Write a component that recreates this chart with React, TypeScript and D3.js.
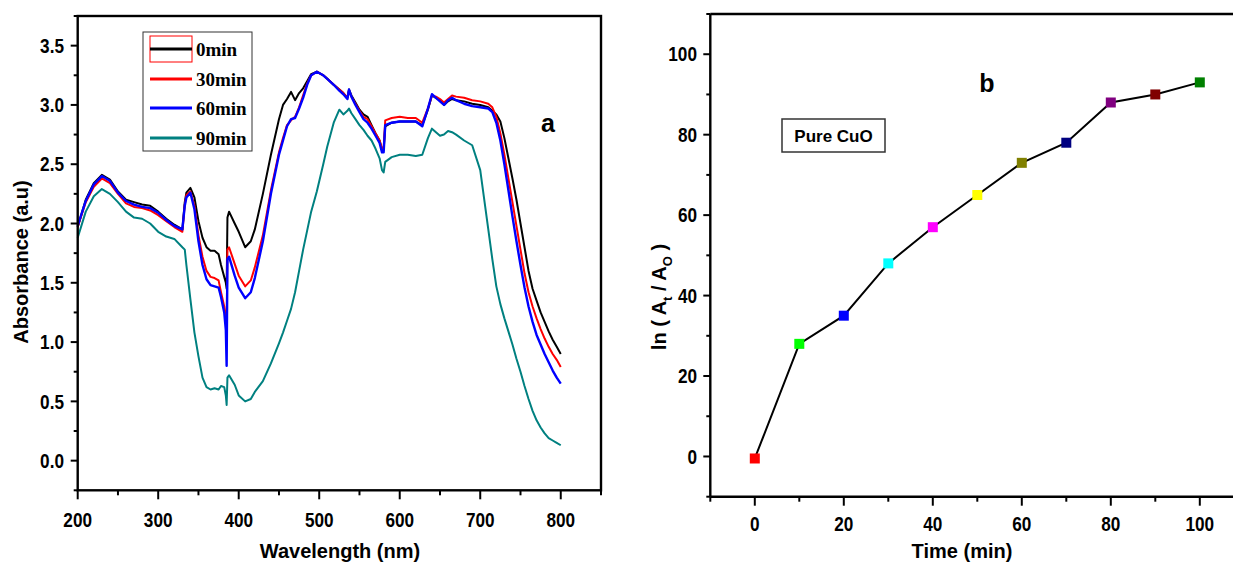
import React from "react";
import * as d3 from "d3";

// ---- panel a : absorbance spectra ----
const wavelengths = [
  200, 210, 220, 230, 240, 250, 260, 270, 280, 290,
  300, 310, 320, 330, 333, 335, 340, 345, 350, 355,
  360, 365, 370, 375, 378, 382, 384, 385, 386, 388,
  395, 400, 408, 415, 420, 430, 440, 450, 455, 460,
  465, 470, 475, 480, 485, 490, 497, 505, 510, 518,
  525, 530, 535, 537, 540, 545, 550, 555, 560, 565,
  570, 575, 578, 580, 582, 590, 600, 610, 620, 628,
  635, 640, 645, 650, 655, 660, 665, 670, 680, 690,
  700, 710, 715, 720, 725, 730, 735, 740, 745, 750,
  755, 760, 765, 770, 775, 780, 785, 790, 795, 800,
];

const abs0min = [
  1.97, 2.2, 2.34, 2.41, 2.37, 2.27, 2.2, 2.18, 2.16, 2.15,
  2.1, 2.04, 1.99, 1.95, 2.18, 2.26, 2.3, 2.22, 2.02, 1.88,
  1.8, 1.77, 1.77, 1.74, 1.65, 1.55, 1.5, 1.45, 2.05, 2.1,
  2.0, 1.93, 1.8, 1.85, 1.95, 2.25, 2.58, 2.88, 3.0, 3.05,
  3.11, 3.04, 3.1, 3.14, 3.2, 3.26, 3.28, 3.25, 3.22, 3.17,
  3.13, 3.1, 3.06, 3.13, 3.08, 3.02, 2.96, 2.92, 2.9, 2.83,
  2.76, 2.7, 2.62, 2.62, 2.82, 2.85, 2.86, 2.86, 2.86, 2.83,
  2.96, 3.08, 3.06, 3.04, 3.0, 3.03, 3.05, 3.04, 3.03, 3.01,
  3.0, 2.98, 2.95, 2.92, 2.86, 2.72, 2.55, 2.38, 2.2, 2.0,
  1.8, 1.6, 1.45, 1.35, 1.25, 1.17, 1.09, 1.02, 0.96, 0.9,
];

const abs30min = [
  1.97, 2.18, 2.31, 2.38, 2.34, 2.25, 2.17, 2.14, 2.13, 2.11,
  2.07, 2.02, 1.97, 1.93, 2.16, 2.24, 2.27, 2.15, 1.9, 1.72,
  1.6, 1.55, 1.54, 1.52, 1.42, 1.3, 1.2, 1.15, 1.78, 1.8,
  1.66, 1.56, 1.47, 1.52, 1.63, 1.9, 2.28, 2.6, 2.72, 2.83,
  2.87, 2.9, 2.98, 3.08, 3.18, 3.25, 3.28, 3.25, 3.22, 3.17,
  3.13, 3.1, 3.06, 3.12, 3.07, 3.01, 2.95, 2.9, 2.88, 2.82,
  2.76, 2.7, 2.63, 2.63, 2.87, 2.89, 2.9, 2.89, 2.89, 2.85,
  2.97, 3.08, 3.07, 3.05, 3.02, 3.05, 3.08, 3.07, 3.06, 3.04,
  3.03, 3.01, 2.98, 2.9, 2.76, 2.58, 2.38, 2.18, 1.98, 1.78,
  1.58, 1.42, 1.3, 1.2, 1.11, 1.03, 0.96, 0.9, 0.85, 0.79,
];

const abs60min = [
  1.98, 2.19, 2.33, 2.4, 2.36, 2.26, 2.19, 2.16, 2.14, 2.13,
  2.09, 2.03, 1.98, 1.95, 2.15, 2.22, 2.26, 2.12, 1.85, 1.65,
  1.53, 1.48, 1.47, 1.46, 1.38, 1.25, 1.1, 0.8, 1.7, 1.72,
  1.56, 1.46, 1.37, 1.42, 1.54, 1.85, 2.25, 2.58, 2.7, 2.82,
  2.88, 2.89, 2.97, 3.06, 3.17, 3.25, 3.28, 3.25, 3.22, 3.17,
  3.12, 3.09, 3.05, 3.13, 3.07, 3.0, 2.94, 2.88, 2.85, 2.8,
  2.74, 2.68, 2.6, 2.6, 2.83, 2.85, 2.86, 2.86, 2.86, 2.82,
  2.97, 3.09, 3.06, 3.03, 3.0, 3.04, 3.06, 3.04, 3.01, 2.99,
  2.98, 2.97, 2.94, 2.85, 2.7, 2.5, 2.28, 2.06, 1.85, 1.65,
  1.46, 1.3, 1.17, 1.06, 0.98, 0.9, 0.83, 0.76, 0.7, 0.65,
];

const abs90min = [
  1.88, 2.1, 2.23, 2.29, 2.25, 2.18, 2.1, 2.05, 2.04, 2.0,
  1.93, 1.89, 1.87, 1.8, 1.78, 1.65, 1.36, 1.08, 0.88, 0.7,
  0.62, 0.6, 0.61, 0.6, 0.63, 0.62, 0.55, 0.47, 0.7, 0.72,
  0.64, 0.55, 0.5, 0.52, 0.58, 0.67, 0.82, 0.99, 1.08, 1.18,
  1.28, 1.42, 1.6, 1.78, 1.94, 2.1, 2.27, 2.5, 2.65, 2.85,
  2.96, 2.92, 2.95, 2.97, 2.93, 2.88, 2.83, 2.79, 2.74, 2.7,
  2.63, 2.55, 2.45, 2.43, 2.52, 2.56, 2.58, 2.58, 2.57, 2.58,
  2.72, 2.8, 2.77, 2.74, 2.75, 2.78, 2.77, 2.75, 2.7, 2.66,
  2.45, 1.95, 1.7, 1.47, 1.32, 1.2, 1.09, 0.98, 0.86, 0.75,
  0.63, 0.52, 0.42, 0.34, 0.28, 0.23, 0.19, 0.17, 0.15, 0.13,
];

const spectraNames = ["0min", "30min", "60min", "90min"];
const spectraColors = ["#000000", "#ff0000", "#0000ff", "#008080"];

// ---- panel b : kinetics ----
const times = [0, 10, 20, 30, 40, 50, 60, 70, 80, 90, 100];
const lnRatio = [-0.5, 28, 35, 48, 57, 65, 73, 78, 88, 90, 93];
const markerColors = [
  "#ff0000", "#00ff00", "#0000ff", "#00ffff", "#ff00ff", "#ffff00",
  "#808000", "#000080", "#800080", "#800000", "#008000",
];

const font = "'Liberation Sans', Arial, sans-serif";

// narrow bold tick label, like the original's condensed font
const TickLabel = ({ x, y, anchor, dy, children }) => (
  <text
    transform={`translate(${x}, ${y}) scale(0.86, 1)`}
    dy={dy}
    textAnchor={anchor}
    fontSize={20}
    fontWeight="bold"
  >
    {children}
  </text>
);

const App = () => {
  const width = 1233;
  const height = 564;

  // scales, panel a
  const xA = d3.scaleLinear().domain([200, 850]).range([77.7, 601]);
  const yA = d3.scaleLinear().domain([-0.25, 3.75]).range([490.3, 16]);
  // scales, panel b
  const xB = d3.scaleLinear().domain([-10, 110]).range([710.3, 1244.3]);
  const yB = d3.scaleLinear().domain([-10, 110]).range([496.7, 14]);

  const series = [abs0min, abs30min, abs60min, abs90min];
  const spectrumLine = d3
    .line<[number, number]>()
    .x(d => xA(d[0]))
    .y(d => yA(d[1]));

  const kineticLine = d3
    .line<[number, number]>()
    .x(d => xB(d[0]))
    .y(d => yB(d[1]));

  const xAMajor = d3.range(200, 801, 100);
  const xAMinor = d3.range(250, 851, 100);
  const yAMajor = d3.range(0, 3.51, 0.5);
  const yAMinor = d3.range(-0.25, 3.76, 0.5);

  const xBMajor = d3.range(0, 101, 20);
  const xBMinor = d3.range(-10, 111, 20);
  const yBMajor = d3.range(0, 101, 20);
  const yBMinor = d3.range(-10, 111, 20);

  const axisStroke = 2.4;

  return (
    <svg
      width={width}
      height={height}
      style={{ position: "absolute", left: 0, top: 0, background: "#fff" }}
      fontFamily={font}
    >
      {/* ================= panel a ================= */}
      <g>
        {series.map((s, i) => (
          <path
            key={spectraNames[i]}
            d={spectrumLine(wavelengths.map((w, j) => [w, s[j]] as [number, number])) || ""}
            fill="none"
            stroke={spectraColors[i]}
            strokeWidth={i === 2 ? 2.4 : 2}
            strokeLinejoin="round"
          />
        ))}

        {/* frame */}
        <rect
          x={xA(200)}
          y={yA(3.75)}
          width={xA(850) - xA(200)}
          height={yA(-0.25) - yA(3.75)}
          fill="none"
          stroke="#000"
          strokeWidth={axisStroke}
        />

        {/* x ticks */}
        {xAMajor.map(t => (
          <g key={"xa" + t}>
            <line x1={xA(t)} x2={xA(t)} y1={yA(-0.25)} y2={yA(-0.25) + 9} stroke="#000" strokeWidth={2} />
            <TickLabel x={xA(t)} y={527} anchor="middle">
              {t}
            </TickLabel>
          </g>
        ))}
        {xAMinor.map(t => (
          <line key={"xam" + t} x1={xA(t)} x2={xA(t)} y1={yA(-0.25)} y2={yA(-0.25) + 5} stroke="#000" strokeWidth={2} />
        ))}

        {/* y ticks */}
        {yAMajor.map(t => (
          <g key={"ya" + t}>
            <line x1={xA(200) - 7} x2={xA(200)} y1={yA(t)} y2={yA(t)} stroke="#000" strokeWidth={2} />
            <TickLabel x={64} y={yA(t)} dy="0.36em" anchor="end">
              {t.toFixed(1)}
            </TickLabel>
          </g>
        ))}
        {yAMinor.map(t => (
          <line key={"yam" + t} x1={xA(200) - 4} x2={xA(200)} y1={yA(t)} y2={yA(t)} stroke="#000" strokeWidth={2} />
        ))}

        {/* axis titles */}
        <text x={340} y={558} textAnchor="middle" fontSize={20} fontWeight="bold">
          Wavelength (nm)
        </text>
        <text
          transform={`translate(28, 262) rotate(-90)`}
          textAnchor="middle"
          fontSize={20}
          fontWeight="bold"
        >
          Absorbance (a.u)
        </text>

        {/* legend */}
        <rect x={143} y={32} width={109} height={119} fill="#fff" stroke="#333" strokeWidth={1} />
        <rect x={150} y={36} width={42} height={26} fill="none" stroke="#ff0000" strokeWidth={1} />
        {spectraNames.map((name, i) => {
          const ly = [49, 79, 108, 138][i];
          return (
            <g key={"leg" + name}>
              <line x1={150} x2={192} y1={ly} y2={ly} stroke={spectraColors[i]} strokeWidth={2.8} />
              <text
                x={196}
                y={ly}
                dy="0.35em"
                fontFamily="'Liberation Serif', 'Times New Roman', serif"
                fontWeight="bold"
                fontSize={19}
              >
                {name}
              </text>
            </g>
          );
        })}

        <text x={548} y={132} textAnchor="middle" fontSize={25} fontWeight="bold">
          a
        </text>
      </g>

      {/* ================= panel b ================= */}
      <g>
        {/* frame: left, bottom, top */}
        <line x1={xB(-10)} x2={xB(-10)} y1={yB(110)} y2={yB(-10)} stroke="#000" strokeWidth={axisStroke} />
        <line x1={xB(-10)} x2={width} y1={yB(-10)} y2={yB(-10)} stroke="#000" strokeWidth={axisStroke} />
        <line x1={xB(-10)} x2={width} y1={yB(110)} y2={yB(110)} stroke="#000" strokeWidth={axisStroke} />

        {xBMajor.map(t => (
          <g key={"xb" + t}>
            <line x1={xB(t)} x2={xB(t)} y1={yB(-10)} y2={yB(-10) + 9} stroke="#000" strokeWidth={2} />
            <TickLabel x={xB(t)} y={531} anchor="middle">
              {t}
            </TickLabel>
          </g>
        ))}
        {xBMinor.map(t => (
          <line key={"xbm" + t} x1={xB(t)} x2={xB(t)} y1={yB(-10)} y2={yB(-10) + 5} stroke="#000" strokeWidth={2} />
        ))}

        {yBMajor.map(t => (
          <g key={"yb" + t}>
            <line x1={xB(-10) - 7} x2={xB(-10)} y1={yB(t)} y2={yB(t)} stroke="#000" strokeWidth={2} />
            <TickLabel x={697} y={yB(t)} dy="0.36em" anchor="end">
              {t}
            </TickLabel>
          </g>
        ))}
        {yBMinor.map(t => (
          <line key={"ybm" + t} x1={xB(-10) - 4} x2={xB(-10)} y1={yB(t)} y2={yB(t)} stroke="#000" strokeWidth={2} />
        ))}

        <path
          d={kineticLine(times.map((t, i) => [t, lnRatio[i]] as [number, number])) || ""}
          fill="none"
          stroke="#000"
          strokeWidth={2}
        />
        {times.map((t, i) => (
          <rect
            key={"m" + t}
            x={xB(t) - 5}
            y={yB(lnRatio[i]) - 5}
            width={10}
            height={10}
            fill={markerColors[i]}
          />
        ))}

        <text x={962} y={558} textAnchor="middle" fontSize={20} fontWeight="bold">
          Time (min)
        </text>
        <text transform={`translate(666, 297) rotate(-90)`} textAnchor="middle" fontSize={20} fontWeight="bold">
          ln ( A
          <tspan fontSize={13} dy={6}>t</tspan>
          <tspan dy={-6}> / A</tspan>
          <tspan fontSize={13} dy={6}>O</tspan>
          <tspan dy={-6}> )</tspan>
        </text>

        <rect x={782} y={119} width={103} height={33} fill="#fff" stroke="#333" strokeWidth={1.5} />
        <text x={833.5} y={142} textAnchor="middle" fontSize={17} fontWeight="bold">
          Pure CuO
        </text>

        <text x={987} y={92} textAnchor="middle" fontSize={25} fontWeight="bold">
          b
        </text>
      </g>
    </svg>
  );
};

export default App;
